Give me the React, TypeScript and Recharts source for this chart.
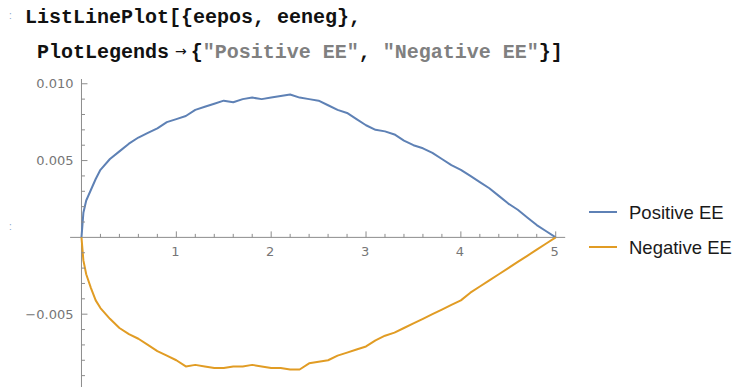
import React from 'react';
import { LineChart, Line, XAxis, YAxis, ReferenceLine, ReferenceDot, Legend } from 'recharts';

const xValues = [0, 0.02, 0.05, 0.1, 0.15, 0.2, 0.3, 0.4, 0.5, 0.6, 0.7, 0.8, 0.9, 1.0, 1.1, 1.2, 1.3, 1.4, 1.5, 1.6, 1.7, 1.8, 1.9, 2.0, 2.1, 2.2, 2.3, 2.4, 2.5, 2.6, 2.7, 2.8, 2.9, 3.0, 3.1, 3.2, 3.3, 3.4, 3.5, 3.6, 3.7, 3.8, 3.9, 4.0, 4.1, 4.2, 4.3, 4.4, 4.5, 4.6, 4.7, 4.8, 4.9, 5.0];

const positiveEE = [0, 0.0016, 0.0024, 0.0031, 0.0038, 0.0044, 0.0051, 0.0056, 0.0061, 0.0065, 0.0068, 0.0071, 0.0075, 0.0077, 0.0079, 0.0083, 0.0085, 0.0087, 0.0089, 0.0088, 0.0090, 0.0091, 0.0090, 0.0091, 0.0092, 0.0093, 0.0091, 0.0090, 0.0089, 0.0086, 0.0083, 0.0081, 0.0077, 0.0073, 0.0070, 0.0069, 0.0067, 0.0063, 0.0060, 0.0058, 0.0055, 0.0051, 0.0047, 0.0044, 0.0040, 0.0036, 0.0032, 0.0027, 0.0022, 0.0018, 0.0013, 0.0008, 0.0004, 0];

const negativeEE = [0, -0.0015, -0.0024, -0.0033, -0.0041, -0.0046, -0.0053, -0.0059, -0.0063, -0.0066, -0.0070, -0.0074, -0.0077, -0.0080, -0.0084, -0.0083, -0.0084, -0.0085, -0.0085, -0.0084, -0.0084, -0.0083, -0.0084, -0.0085, -0.0085, -0.0086, -0.0086, -0.0082, -0.0081, -0.0080, -0.0077, -0.0075, -0.0073, -0.0071, -0.0067, -0.0064, -0.0062, -0.0059, -0.0056, -0.0053, -0.0050, -0.0047, -0.0044, -0.0041, -0.0036, -0.0032, -0.0028, -0.0024, -0.0020, -0.0016, -0.0012, -0.0008, -0.0004, 0];

const seriesNames = ['Positive EE', 'Negative EE'];
const seriesColors = ['#5E81B5', '#E19C24'];

const xMajorTicks = [1, 2, 3, 4, 5];
const xMajorLabels = ['1', '2', '3', '4', '5'];
const xMinorTicks = [0.2, 0.4, 0.6, 0.8, 1.2, 1.4, 1.6, 1.8, 2.2, 2.4, 2.6, 2.8, 3.2, 3.4, 3.6, 3.8, 4.2, 4.4, 4.6, 4.8];
const yMajorTicks = [0.01, 0.005, -0.005];
const yMajorLabels = ['0.010', '0.005', '\u22120.005'];
const yMinorTicks = [0.009, 0.008, 0.007, 0.006, 0.004, 0.003, 0.002, 0.001, -0.001, -0.002, -0.003, -0.004, -0.006, -0.007, -0.008, -0.009];

const data = xValues.map((x, i) => ({ x, pos: positiveEE[i], neg: negativeEE[i] }));

const AXIS_COLOR = '#8c8c8c';
const LABEL_COLOR = '#767676';
const TICK_FONT = '"DejaVu Sans", sans-serif';

const makeXTick = (major: boolean, label?: string) => (p: any) => {
  const { cx, cy } = p;
  const len = major ? 6 : 3.5;
  return (
    <g>
      <line x1={cx} y1={cy} x2={cx} y2={cy - len} stroke={AXIS_COLOR} strokeWidth={1} />
      {label !== undefined && (
        <text x={cx - 1} y={cy + 19} textAnchor="middle" fontFamily={TICK_FONT} fontSize={13} fill={LABEL_COLOR}>
          {label}
        </text>
      )}
    </g>
  );
};

const makeYTick = (major: boolean, label?: string) => (p: any) => {
  const { cx, cy } = p;
  const len = major ? 6 : 3.5;
  return (
    <g>
      <line x1={cx} y1={cy} x2={cx + len} y2={cy} stroke={AXIS_COLOR} strokeWidth={1} />
      {label !== undefined && (
        <text x={cx - 8} y={cy + 4.7} textAnchor="end" fontFamily={TICK_FONT} fontSize={13} fill={LABEL_COLOR}>
          {label}
        </text>
      )}
    </g>
  );
};

const LegendContent = () => (
  <div style={{ fontFamily: '"Liberation Sans", Arial, sans-serif', fontSize: 18.5, color: '#1a1a1a' }}>
    {seriesNames.map((name, i) => (
      <div key={name} style={{ display: 'flex', alignItems: 'center', height: 35, lineHeight: '35px', whiteSpace: 'nowrap' }}>
        <svg width={28} height={4} style={{ marginRight: 12, display: 'block' }}>
          <line x1={0} y1={2} x2={28} y2={2} stroke={seriesColors[i]} strokeWidth={2} />
        </svg>
        <span>{name}</span>
      </div>
    ))}
  </div>
);

const codeStyle: React.CSSProperties = {
  position: 'absolute',
  fontFamily: '"Liberation Mono", "Courier New", monospace',
  fontWeight: 'bold',
  fontSize: 20,
  lineHeight: '20px',
  color: '#111',
  whiteSpace: 'pre',
};

const strStyle: React.CSSProperties = { color: '#808080' };

export default function App() {
  return (
    <div style={{ position: 'absolute', left: 0, top: 0, width: 738, height: 387, overflow: 'hidden', background: '#fff' }}>
      <div style={{ position: 'absolute', left: 9, top: 8, fontSize: 10, color: '#8aa4c8', fontFamily: 'sans-serif', lineHeight: '16px' }}>:</div>
      <div style={{ position: 'absolute', left: 9, top: 219, fontSize: 10, color: '#8aa4c8', fontFamily: 'sans-serif', lineHeight: '16px' }}>:</div>
      <div style={{ ...codeStyle, left: 25, top: 8 }}>{'ListLinePlot[{eepos, eeneg},'}</div>
      <div style={{ ...codeStyle, left: 37, top: 43 }}>
        {'PlotLegends'}
        <span style={{ fontFamily: '"DejaVu Sans", sans-serif', fontSize: 14, fontWeight: 'normal', margin: '0 4px 0 6px', position: 'relative', top: -2 }}>{'\u2192'}</span>
        {'{'}
        <span style={strStyle}>{'"Positive EE"'}</span>
        {', '}
        <span style={strStyle}>{'"Negative EE"'}</span>
        {'}]'}
      </div>
      <div style={{ position: 'absolute', left: 0, top: 0 }}>
        <LineChart width={738} height={387} data={data} margin={{ top: 79, right: 172.8, left: 70.1, bottom: 0 }}>
          <XAxis dataKey="x" type="number" domain={[-0.12, 5.1]} hide allowDataOverflow />
          <YAxis type="number" domain={[-0.00974, 0.01031]} hide allowDataOverflow />
          <ReferenceLine y={0} stroke={AXIS_COLOR} strokeWidth={1} />
          <ReferenceLine x={0} stroke={AXIS_COLOR} strokeWidth={1} />
          {xMinorTicks.map((t) => (
            <ReferenceDot key={'xm' + t} x={t} y={0} r={0} ifOverflow="visible" shape={makeXTick(false)} />
          ))}
          {xMajorTicks.map((t, i) => (
            <ReferenceDot key={'xM' + t} x={t} y={0} r={0} ifOverflow="visible" shape={makeXTick(true, xMajorLabels[i])} />
          ))}
          {yMinorTicks.map((t) => (
            <ReferenceDot key={'ym' + t} x={0} y={t} r={0} ifOverflow="visible" shape={makeYTick(false)} />
          ))}
          {yMajorTicks.map((t, i) => (
            <ReferenceDot key={'yM' + t} x={0} y={t} r={0} ifOverflow="visible" shape={makeYTick(true, yMajorLabels[i])} />
          ))}
          <Line type="linear" dataKey="pos" name={seriesNames[0]} stroke={seriesColors[0]} strokeWidth={2} strokeLinejoin="round" dot={false} isAnimationActive={false} />
          <Line type="linear" dataKey="neg" name={seriesNames[1]} stroke={seriesColors[1]} strokeWidth={2} strokeLinejoin="round" dot={false} isAnimationActive={false} />
          <Legend
            layout="vertical"
            align="center"
            verticalAlign="middle"
            content={<LegendContent />}
            wrapperStyle={{ left: 589, top: 194.5, width: 149, margin: 0 }}
          />
        </LineChart>
      </div>
    </div>
  );
}
